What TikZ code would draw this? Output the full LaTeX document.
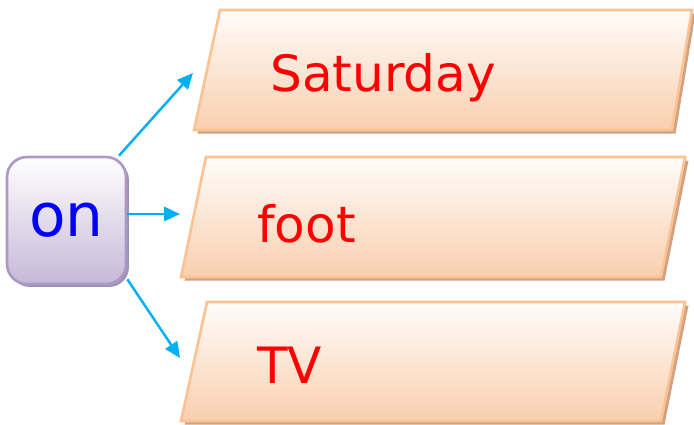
\documentclass[tikz,border=0pt]{standalone}
\usepackage{fontspec}
\setmainfont{DejaVu Sans}
\usetikzlibrary{arrows.meta,shadows}
\definecolor{plateline}{HTML}{FBC393}
\definecolor{platetop}{HTML}{FFFCFA}
\definecolor{platebot}{HTML}{F9CFAF}
\definecolor{plateshade}{HTML}{D0A282}
\definecolor{boxline}{HTML}{AA9AC4}
\definecolor{boxbot}{HTML}{C6B8D8}
\definecolor{boxshade}{HTML}{9F90B5}
\definecolor{arrowblue}{HTML}{00B0F0}
\tikzset{
  plate/.style={draw=plateline, line width=1.5pt, top color=platetop, bottom color=platebot,
    drop shadow={shadow xshift=2pt, shadow yshift=-2pt, fill=plateshade, opacity=1}},
  word/.style={anchor=base west, inner sep=0pt, text=red, font=\fontsize{28.5}{32}\selectfont},
  onbox/.style={draw=boxline, line width=1.5pt, rounded corners=0.4cm, top color=white,
    bottom color=boxbot, minimum width=2.38cm, minimum height=2.54cm, text=blue,
    font=\fontsize{34}{38}\selectfont,
    drop shadow={shadow xshift=1.7pt, shadow yshift=-1.7pt, fill=boxshade, opacity=1}},
  link/.style={draw=arrowblue, line width=1.4pt, -{Triangle[length=9pt,width=8pt]}},
}
\begin{document}
\begin{tikzpicture}[x=0.02cm, y=-0.02cm]
  \useasboundingbox (0,0) rectangle (694,424);
  % the three answer plates
  \path[plate] (220,10) -- (692,10) -- (672,130) -- (194,130) -- cycle;
  \path[plate] (206,157) -- (685,157) -- (661,277) -- (181,277) -- cycle;
  \path[plate] (207,302) -- (685,302) -- (661,421) -- (181,421) -- cycle;
  \node[word] (sat) at (270,91) {Saturday};
  \node[word] (foot) at (257,242) {foot};
  \node[word] (tv) at (257,383) {TV};
  % the preposition
  \node[onbox] (on) at (66.5,220.5) {on};
  \coordinate (tip1) at (193,73);
  \coordinate (tip2) at (180,214);
  \coordinate (tip3) at (180,358);
  \begin{scope}[link]
    \draw (on.51) -- (tip1);
    \draw (on.east |- tip2) -- (tip2);
    \draw (on.-44) -- (tip3);
  \end{scope}
\end{tikzpicture}
\end{document}
